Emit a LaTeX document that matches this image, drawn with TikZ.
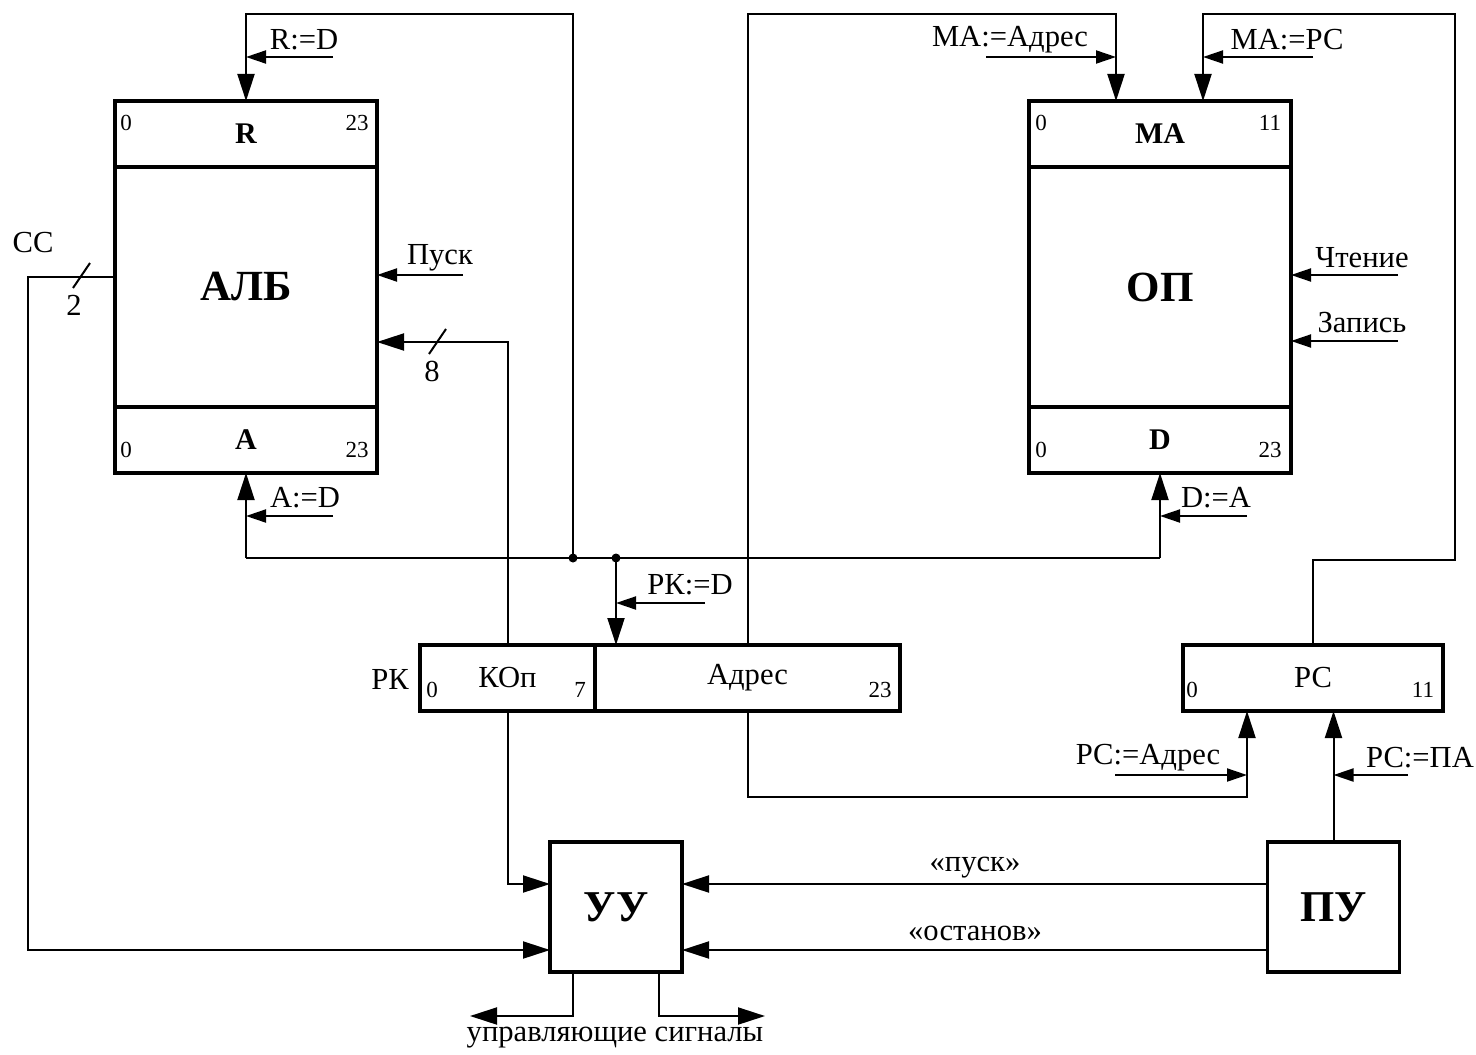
\documentclass[tikz,border=0pt]{standalone}
\usepackage{fontspec}
\setmainfont{Liberation Serif}
\usetikzlibrary{arrows.meta,positioning,calc}

\begin{document}
\begin{tikzpicture}[x=0.5pt,y=-0.5pt,line width=1pt,
  big/.style={-{Triangle[length=13.5pt,width=8.5pt]}},
  ctl/.style={-{Triangle[length=10pt,width=6.5pt]}},
  reg/.style={draw, line width=1.6pt, inner sep=0pt, outer sep=0pt, minimum width=131pt, minimum height=33pt, font=\fontsize{15}{17}\selectfont\bfseries},
  unit/.style={draw, line width=1.6pt, inner sep=0pt, outer sep=0pt, minimum width=131pt, minimum height=120pt, font=\fontsize{21.5}{24}\selectfont\bfseries},
  field/.style={draw, line width=1.6pt, inner sep=0pt, outer sep=0pt, minimum height=33pt, font=\fontsize{15.3}{17}\selectfont},
  blk/.style={draw, line width=1.6pt, inner sep=0pt, outer sep=0pt, minimum width=66pt, minimum height=65pt, font=\fontsize{22}{24}\selectfont\bfseries},
  lbl/.style={inner sep=0pt, font=\fontsize{15.3}{17}\selectfont},
  bit/.style={inner sep=0pt, font=\fontsize{11.5}{13}\selectfont},
  dot/.style={circle, fill, inner sep=0pt, minimum size=4.5pt}]
  \useasboundingbox (0,0) rectangle (1476,1054);
  % units and registers
  \node[reg](R) at (246,134){R};
  \node[unit, below=0pt of R](alb){АЛБ};
  \node[reg, below=0pt of alb](A){A};
  \node[reg](MA) at (1160,134){MA};
  \node[unit, below=0pt of MA](op){ОП};
  \node[reg, below=0pt of op](D){D};
  \node[field, minimum width=87.5pt](kop) at (507.5,678){КОп};
  \node[field, minimum width=152.5pt, right=0pt of kop](adr){Адрес};
  \node[field, minimum width=130pt](pc) at (1313,678){РС};
  \node[blk](UU) at (616,907){УУ};
  \node[blk](PU) at (1333.5,907){ПУ};
  % bit numbers
  \foreach \t/\x/\y [count=\i] in {0/126/123, 23/357/123, 0/126/450, 23/357/450,
      0/1041/123, 11/1270/123, 0/1041/450, 23/1270/450,
      0/432/690, 7/580/690, 23/880/690, 0/1192/690, 11/1423/690}
    \node[bit](bit\i) at (\x,\y){\t};
  % labels
  \node[lbl](lRD) at (304,40){R:=D};
  \node[lbl](lAD) at (305,498){A:=D};
  \node[lbl](lPusk) at (440,258){Пуск};
  \node[lbl](lCC) at (33,243){СС};
  \node[lbl](l2) at (74,305){2};
  \node[lbl](l8) at (432,371){8};
  \node[lbl](lRK) at (390,679){РК};
  \node[lbl](lMA) at (1010,40){MA:=Адрес};
  \node[lbl](lMP) at (1287,40){MA:=РС};
  \node[lbl](lRead) at (1362,258){Чтение};
  \node[lbl](lWrite) at (1362,323){Запись};
  \node[lbl](lDA) at (1216,498){D:=A};
  \node[lbl](lKD) at (690,585){РК:=D};
  \node[lbl](lPA) at (1148,758){РС:=Адрес};
  \node[lbl](lPP) at (1420,758){РС:=ПА};
  \node[lbl](lStart) at (975,868){«пуск»};
  \node[lbl](lStop) at (975,933){«останов»};
  \node[lbl](lOut) at (615,1038){управляющие сигналы};
  % corner points
  \coordinate (jR) at (573,558);
  \coordinate (jK) at (616,558);
  \coordinate (topR) at (573,14);
  \coordinate (topM) at (1116,14);
  \coordinate (topP) at (1203,14);
  \coordinate (corP) at (1455,560);
  \coordinate (corA) at (1247,797);
  \coordinate (corC) at (28,277);
  \coordinate (outL) at (470,1016);
  \coordinate (outR) at (765,1016);
  % data paths
  \draw (A.south |- jR) -- (D.south |- jR);
  \draw[big] (A.south |- jR) -- (A.south);
  \draw[big] (D.south |- jR) -- (D.south);
  \draw[big] (jR) -- (topR) -| (R.north);
  \draw[big] (jK) -- (jK |- adr.north);
  \node[dot](dR) at (jR){};
  \node[dot](dK) at (jK){};
  \draw[big] (kop.north) |- ($(alb.east)+(0,55)$);
  \draw (429,354) -- (446,329);
  \draw[big] (adr.north) |- (topM) -- (topM |- MA.north);
  \draw[big] (pc.north) |- (corP) |- (topP) -- (topP |- MA.north);
  \draw[big] (adr.south) |- (corA) -- (corA |- pc.south);
  \draw[big] (kop.south) |- ($(UU.north west)+(0,42)$);
  \draw[big] (corC -| alb.west) -- (corC) |- ($(UU.north west)+(0,108)$);
  \draw (73,288) -- (90,263);
  \draw[big] (PU.north) -- (PU.north |- pc.south);
  \draw[big] ($(PU.north west)+(0,42)$) -- ($(UU.north east)+(0,42)$);
  \draw[big] ($(PU.north west)+(0,108)$) -- ($(UU.north east)+(0,108)$);
  \draw[big] ($(UU.south west)+(23,0)$) |- (outL);
  \draw[big] ($(UU.south west)+(109,0)$) |- (outR);
  % control signals
  \coordinate (cRD) at (333,57);
  \coordinate (cAD) at (333,516);
  \coordinate (cPusk) at (463,275);
  \coordinate (cRead) at (1398,275);
  \coordinate (cWrite) at (1398,341);
  \coordinate (cDA) at (1247,516);
  \coordinate (cKD) at (705,603);
  \coordinate (cMA) at (986,57);
  \coordinate (cMP) at (1313,57);
  \coordinate (cPA) at (1115,775);
  \coordinate (cPP) at (1408,775);
  \draw[ctl] (cRD) -- (cRD -| R.north);
  \draw[ctl] (cAD) -- (cAD -| A.south);
  \draw[ctl] (cPusk) -- (cPusk -| alb.east);
  \draw[ctl] (cRead) -- (cRead -| op.east);
  \draw[ctl] (cWrite) -- (cWrite -| op.east);
  \draw[ctl] (cDA) -- (cDA -| D.south);
  \draw[ctl] (cKD) -- (cKD -| jK);
  \draw[ctl] (cMA) -- (cMA -| topM);
  \draw[ctl] (cMP) -- (cMP -| topP);
  \draw[ctl] (cPA) -- (cPA -| corA);
  \draw[ctl] (cPP) -- (cPP -| PU.north);
\end{tikzpicture}
\end{document}
